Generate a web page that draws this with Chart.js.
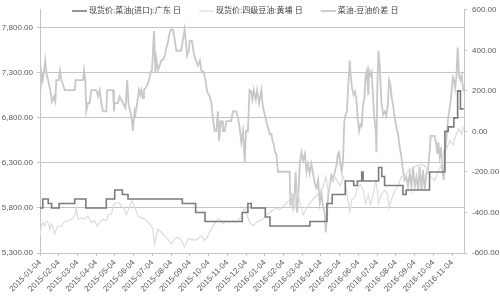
<!DOCTYPE html>
<html>
<head>
<meta charset="utf-8">
<script src="https://cdn.jsdelivr.net/npm/chart.js@4.4.1/dist/chart.umd.min.js"></script>
<style>
html, body { margin: 0; padding: 0; background: #fff; }
</style>
</head>
<body>
<canvas id="spreadChart" width="500" height="298"></canvas>
<script>
// x = months since 2015-01-04
const monthLabels = ['2015-01-04', '2015-02-04', '2015-03-04', '2015-04-04', '2015-05-04', '2015-06-04',
    '2015-07-04', '2015-08-04', '2015-09-04', '2015-10-04', '2015-11-04', '2015-12-04',
    '2016-01-04', '2016-02-04', '2016-03-04', '2016-04-04', '2016-05-04', '2016-06-04',
    '2016-07-04', '2016-08-04', '2016-09-04', '2016-10-04', '2016-11-04'];
const leftTicks = [5300, 5800, 6300, 6800, 7300, 7800];
const rightTicks = [-600, -400, -200, 0, 200, 400, 600];

const seriesNames = ['现货价:菜油(进口):广东 日', '现货价:四级豆油:黄埔 日', '菜油-豆油价差 日'];

// rapeseed oil (import), Guangdong - step series
const rapeseed = [[0, 5800], [0.15, 5900], [0.44, 5850], [0.62, 5800], [1.02, 5850], [1.85, 5900],
    [2.45, 5800], [3.54, 5900], [3.99, 6000], [4.4, 5950], [4.7, 5900], [7.6, 5850], [8.31, 5750],
    [8.81, 5650], [10.8, 5750], [11.1, 5850], [11.28, 5800], [12.03, 5700], [12.28, 5600],
    [14.41, 5650], [15.32, 5850], [15.6, 5950], [16.3, 6100], [16.75, 6050], [16.95, 6100],
    [17.18, 6200], [17.25, 6100], [18.08, 6250], [18.25, 6150], [18.4, 6050], [19.3, 6050],
    [19.38, 5950], [19.55, 6000], [20.8, 6200], [21.62, 6650], [21.8, 6700], [22.1, 6800],
    [22.3, 7100], [22.45, 6900], [22.62, 6900]];

// grade 4 soybean oil, Huangpu
const soybean = [[0, 5490], [0.07, 5600], [0.16, 5640], [0.25, 5600], [0.34, 5655], [0.43, 5640],
    [0.52, 5565], [0.6, 5620], [0.69, 5585], [0.78, 5510], [0.87, 5565], [0.96, 5600], [1.14, 5600],
    [1.32, 5655], [1.49, 5655], [1.67, 5675], [1.85, 5710], [1.94, 5800], [2.03, 5675], [2.21, 5690],
    [2.38, 5675], [2.56, 5710], [2.74, 5640], [2.92, 5655], [3.06, 5600], [3.19, 5640], [3.36, 5675],
    [3.54, 5655], [3.67, 5730], [3.81, 5730], [3.95, 5840], [4.07, 5855], [4.25, 5855], [4.34, 5820],
    [4.48, 5800], [4.61, 5730], [4.7, 5765], [4.84, 5855], [4.93, 5875], [5.02, 5820], [5.14, 5765],
    [5.23, 5710], [5.41, 5690], [5.59, 5675], [5.77, 5640], [5.94, 5600], [6.03, 5565], [6.12, 5400],
    [6.21, 5490], [6.3, 5565], [6.48, 5530], [6.65, 5490], [6.83, 5455], [7.01, 5400], [7.19, 5455],
    [7.37, 5475], [7.54, 5440], [7.72, 5365], [7.9, 5455], [8.08, 5455], [8.26, 5440], [8.43, 5455],
    [8.61, 5490], [8.79, 5440], [8.97, 5490], [9.06, 5530], [9.15, 5565], [9.32, 5620], [9.5, 5675],
    [9.59, 5675], [9.77, 5620], [9.95, 5655], [10.12, 5640], [10.3, 5655], [10.48, 5640], [10.66, 5675],
    [10.78, 5730], [10.93, 5800], [11.01, 5750], [11.19, 5640], [11.38, 5600], [11.56, 5640],
    [11.73, 5660], [11.91, 5675], [12.09, 5730], [12.27, 5750], [12.44, 5780], [12.62, 5800],
    [12.8, 5780], [12.98, 5820], [13.16, 5850], [13.33, 5900], [13.42, 5950], [13.6, 5800],
    [13.73, 6000], [13.87, 5870], [14.05, 5720], [14.22, 5800], [14.4, 5850], [14.58, 5900],
    [14.76, 5930], [14.94, 6000], [15.11, 6020], [15.26, 6150], [15.38, 6000], [15.56, 6100],
    [15.74, 6150], [15.91, 6080], [16.04, 6050], [16.18, 6150], [16.32, 6050], [16.47, 5850],
    [16.54, 5760], [16.66, 5900], [16.82, 5920], [16.96, 6030], [17.11, 6060], [17.25, 6000],
    [17.39, 5850], [17.53, 5950], [17.64, 5830], [17.78, 5950], [17.93, 6100], [18.01, 6000],
    [18.07, 5850], [18.23, 5950], [18.41, 6000], [18.57, 5950], [18.64, 5800], [18.78, 5900],
    [18.92, 5980], [19.12, 6050], [19.3, 6150], [19.42, 6140], [19.56, 6180], [19.7, 6220],
    [19.85, 6230], [20.01, 6260], [20.19, 6270], [20.36, 6280], [20.54, 6270], [20.72, 6200],
    [20.86, 6150], [21.07, 6100], [21.25, 6200], [21.43, 6280], [21.56, 6440], [21.7, 6450],
    [21.88, 6550], [22.05, 6500], [22.23, 6620], [22.37, 6680], [22.52, 6620], [22.62, 6700]];

// rapeseed - soybean spread (right axis)
const spread = [[0.02, 196], [0.07, 293], [0.14, 253], [0.21, 293], [0.28, 350], [0.36, 277],
    [0.43, 253], [0.53, 212], [0.64, 148], [0.75, 172], [0.82, 148], [0.87, 253], [1.0, 253],
    [1.07, 301], [1.14, 253], [1.32, 204], [1.85, 204], [1.9, 253], [2.3, 253], [2.35, 301],
    [2.42, 253], [2.47, 99], [2.56, 140], [2.65, 140], [2.74, 204], [3.01, 204], [3.1, 172],
    [3.19, 204], [3.27, 140], [3.36, 99], [3.54, 99], [3.59, 204], [3.9, 204], [3.95, 99],
    [3.99, 140], [4.16, 140], [4.25, 172], [4.43, 140], [4.56, 116], [4.66, 253], [4.73, 132],
    [4.84, 91], [4.91, 51], [4.96, 2], [5.05, 99], [5.09, 83], [5.2, 148], [5.28, 204], [5.36, 180],
    [5.41, 204], [5.5, 164], [5.55, 204], [5.62, 212], [5.73, 229], [5.82, 253], [5.91, 293],
    [5.98, 301], [6.09, 495], [6.16, 293], [6.21, 358], [6.3, 301], [6.48, 350], [6.62, 358],
    [6.73, 406], [6.83, 439], [6.92, 487], [7.01, 503], [7.1, 503], [7.19, 455], [7.28, 398],
    [7.54, 398], [7.65, 463], [7.72, 503], [7.79, 439], [7.85, 374], [7.94, 398], [7.99, 447],
    [8.11, 447], [8.19, 398], [8.29, 358], [8.43, 325], [8.54, 350], [8.61, 301], [8.74, 293],
    [8.83, 253], [8.93, 196], [9.06, 172], [9.15, 140], [9.23, 67], [9.32, 2], [9.41, 2], [9.5, 99],
    [9.56, -46], [9.64, 51], [9.72, 51], [9.77, 2], [9.86, 2], [9.95, 51], [10.21, 51], [10.3, 99],
    [10.48, 99], [10.57, 67], [10.66, 19], [10.75, -54], [10.84, 2], [10.93, -151], [11.0, 2],
    [11.1, 2], [11.19, 204], [11.28, 196], [11.34, 156], [11.41, 204], [11.52, 156], [11.59, 204],
    [11.7, 140], [11.82, 204], [11.88, 140], [11.95, 99], [12.05, 67], [12.12, 35], [12.18, 19],
    [12.27, -14], [12.36, -14], [12.41, -46], [12.48, -62], [12.55, -103], [12.62, -111],
    [12.71, -199], [13.33, -199], [13.37, -369], [13.44, -304], [13.51, -369], [13.6, -296],
    [13.65, -199], [13.73, -401], [13.8, -304], [13.87, -159], [13.96, -103], [14.05, -143],
    [14.14, -111], [14.23, -199], [14.31, -159], [14.4, -208], [14.49, -159], [14.58, -208],
    [14.67, -256], [14.76, -280], [14.85, -240], [14.94, -353], [15.02, -304], [15.11, -369],
    [15.2, -401], [15.26, -498], [15.33, -401], [15.4, -304], [15.47, -264], [15.56, -216],
    [15.65, -240], [15.74, -199], [15.83, -167], [15.91, -111], [15.97, -103], [16.04, -159],
    [16.11, -199], [16.18, -143], [16.25, 51], [16.32, 83], [16.39, 99], [16.47, 245], [16.54, 350],
    [16.59, 277], [16.66, 212], [16.75, 180], [16.82, 196], [16.89, 164], [16.96, 67], [17.04, 2],
    [17.11, 35], [17.18, 27], [17.25, 132], [17.32, 164], [17.39, 277], [17.46, 301], [17.53, 180],
    [17.57, 301], [17.64, 277], [17.71, 293], [17.78, 180], [17.85, 67], [17.93, 2], [17.96, -103],
    [18.01, 212], [18.07, 398], [18.14, 317], [18.23, 148], [18.32, 83], [18.41, 99], [18.49, 75],
    [18.57, 132], [18.64, 253], [18.71, 229], [18.78, 164], [18.85, 132], [18.92, 83], [19.03, 19],
    [19.12, -14], [19.21, -78], [19.3, -127], [19.38, -191], [19.47, -240], [19.56, -224],
    [19.65, -272], [19.74, -208], [19.83, -272], [19.92, -175], [20.01, -272], [20.1, -224],
    [20.19, -288], [20.27, -175], [20.36, -288], [20.45, -191], [20.54, -288], [20.63, -208],
    [20.72, -191], [20.81, -94], [20.86, -22], [21.07, -22], [21.16, -62], [21.22, -111],
    [21.27, -54], [21.34, -127], [21.41, -78], [21.48, -191], [21.56, -240], [21.61, -111],
    [21.7, -46], [21.79, 67], [21.88, 116], [21.96, 180], [22.05, 269], [22.1, 261], [22.17, 212],
    [22.23, 261], [22.3, 414], [22.37, 277], [22.44, 253], [22.52, 277], [22.58, 220], [22.62, 196]];

const toPoints = arr => arr.map(p => ({ x: p[0], y: p[1] }));

const tickFont = { family: '"Liberation Sans", "Noto Sans CJK SC"', size: 8 };
const gridColor = '#c4c4c4';

// legend drawn inside the plot area, along the top
const topLegend = {
    id: 'topLegend',
    afterDraw(chart) {
        const ctx = chart.ctx;
        ctx.save();
        ctx.font = '8px "Liberation Sans", "Noto Sans CJK SC"';
        ctx.textBaseline = 'middle';
        let x = 72;
        const y = 11;
        chart.data.datasets.forEach(ds => {
            ctx.strokeStyle = ds.borderColor;
            ctx.lineWidth = ds.borderWidth;
            ctx.beginPath();
            ctx.moveTo(x, y);
            ctx.lineTo(x + 15, y);
            ctx.stroke();
            ctx.fillStyle = '#404040';
            ctx.fillText(ds.label, x + 17, y);
            x += 17 + ctx.measureText(ds.label).width + 18;
        });
        ctx.restore();
    }
};

const ctx = document.getElementById('spreadChart').getContext('2d');
const chart = new Chart(ctx, {
    type: 'line',
    data: {
        datasets: [{
            label: seriesNames[0],
            data: toPoints(rapeseed),
            borderColor: '#7b7b7b',
            borderWidth: 1.6,
            stepped: true,
            yAxisID: 'yLeft'
        }, {
            label: seriesNames[1],
            data: toPoints(soybean),
            borderColor: '#dcdcdc',
            borderWidth: 1.2,
            yAxisID: 'yLeft'
        }, {
            label: seriesNames[2],
            data: toPoints(spread),
            borderColor: '#c8c8c8',
            borderWidth: 1.8,
            yAxisID: 'yRight'
        }]
    },
    options: {
        responsive: false,
        animation: false,
        layout: { padding: { top: 5, left: 0, right: 0, bottom: 0 } },
        elements: { point: { radius: 0 }, line: { tension: 0 } },
        plugins: {
            legend: { display: false },
            tooltip: { enabled: false }
        },
        scales: {
            x: {
                type: 'linear',
                min: 0,
                max: 22.64,
                afterBuildTicks: scale => { scale.ticks = monthLabels.map((_, i) => ({ value: i })); },
                afterFit: scale => { scale.height = 45; },
                ticks: {
                    autoSkip: false,
                    maxRotation: 45,
                    minRotation: 45,
                    padding: 2,
                    color: '#595959',
                    font: tickFont,
                    callback: value => monthLabels[Math.round(value)]
                },
                grid: { drawOnChartArea: false, tickLength: 3, color: gridColor },
                border: { color: gridColor }
            },
            yLeft: {
                position: 'left',
                min: 5300,
                max: 8000,
                afterBuildTicks: scale => { scale.ticks = leftTicks.map(v => ({ value: v })); },
                afterFit: scale => { scale.width = 40; },
                ticks: {
                    padding: 4,
                    color: '#595959',
                    font: tickFont,
                    callback: v => v.toLocaleString('en-US', { minimumFractionDigits: 2, maximumFractionDigits: 2 })
                },
                grid: { color: gridColor, tickLength: 3 },
                border: { color: gridColor }
            },
            yRight: {
                position: 'right',
                min: -600,
                max: 600,
                afterBuildTicks: scale => { scale.ticks = rightTicks.map(v => ({ value: v })); },
                afterFit: scale => { scale.width = 36; },
                ticks: {
                    padding: 5,
                    color: '#595959',
                    font: tickFont,
                    callback: v => v.toFixed(2)
                },
                grid: { drawOnChartArea: false, tickLength: 3, color: gridColor },
                border: { color: gridColor }
            }
        }
    },
    plugins: [topLegend]
});
</script>
</body>
</html>
